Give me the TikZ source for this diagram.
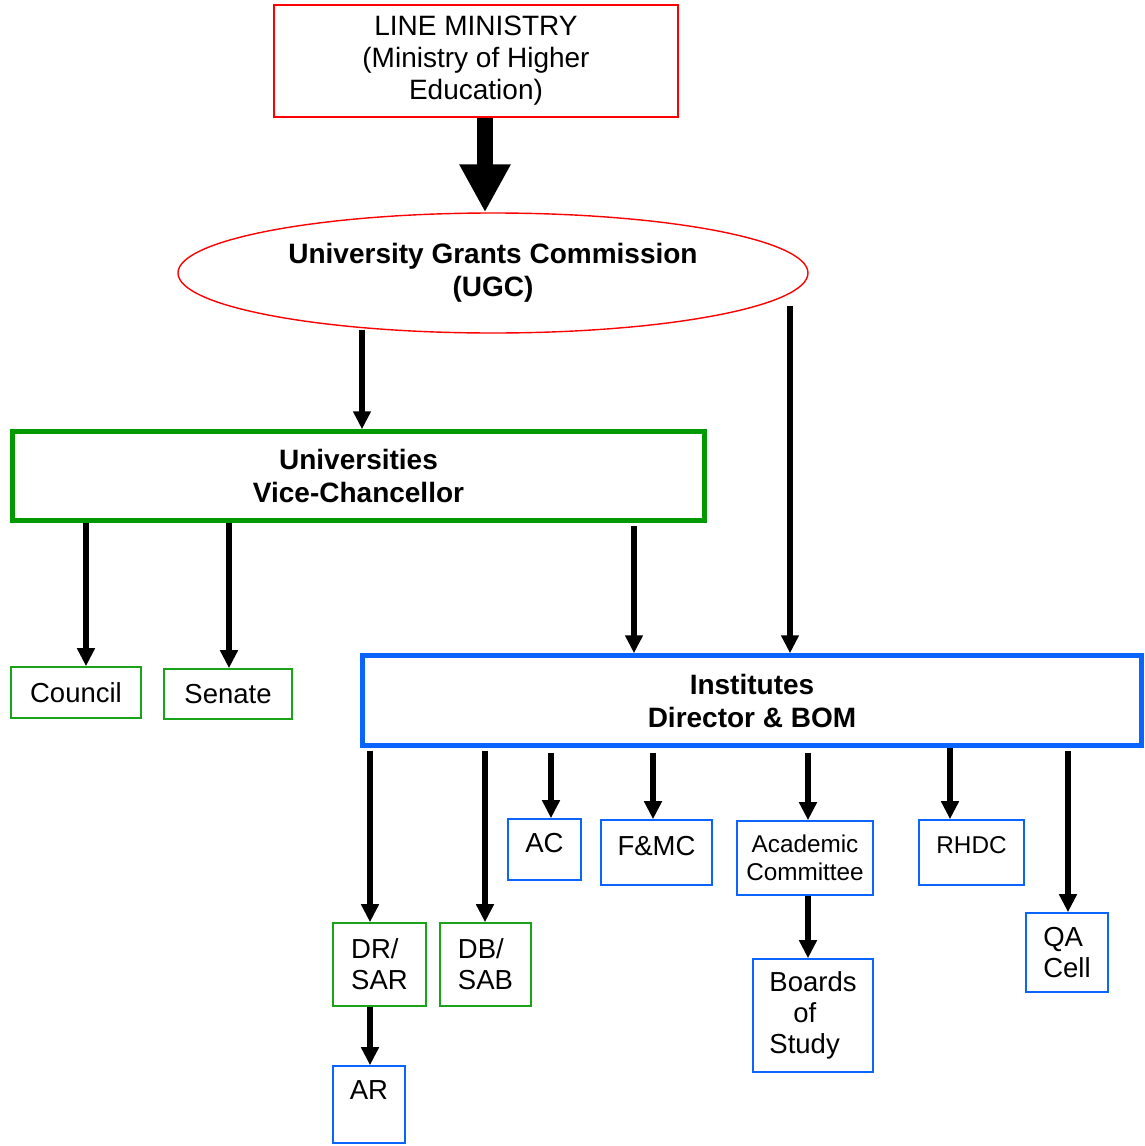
\documentclass[tikz,border=0pt]{standalone}
\usepackage{fontspec}
\setmainfont{Liberation Sans}
\usepackage{tikz}
\usetikzlibrary{arrows.meta,positioning,shapes.geometric}
\definecolor{orgred}{HTML}{FF0000}
\definecolor{orggreen}{HTML}{009900}
\definecolor{orgblue}{HTML}{0A64FF}

\begin{document}
\begin{tikzpicture}[x=1pt,y=-1pt,
  box/.style={draw,rectangle,inner sep=2pt,align=center,font=\fontsize{27.5}{31}\selectfont,line width=1.6pt},
  ministrybox/.style={box,draw=orgred,line width=1.8pt,font=\fontsize{28}{32}\selectfont},
  ugcshape/.style={draw=orgred,ellipse,inner sep=0pt,line width=1.4pt,align=center,font=\fontsize{28}{33}\selectfont\bfseries},
  headbox/.style={box,line width=4.5pt,font=\fontsize{28}{33}\selectfont\bfseries},
  univbox/.style={headbox,draw=orggreen},
  instbox/.style={headbox,draw=orgblue},
  greenbox/.style={box,draw=orggreen!90!white},
  bluebox/.style={box,draw=orgblue},
  smalltext/.style={font=\fontsize{24.3}{28}\selectfont},
  arr/.style={-{Triangle[length=18pt,width=17pt]},line width=5.5pt},
  bigarr/.style={-{Triangle[length=48pt,width=48pt]},line width=16pt}
]
\useasboundingbox (0,0) rectangle (1145,1146);

% Line ministry and UGC (top)
\node[ministrybox,minimum width=404pt,minimum height=112pt] (lm) at (476,61) {LINE MINISTRY\\(Ministry of Higher\\Education)};
\node[ugcshape,minimum width=630pt,minimum height=120pt] (ugc) at (493,273) {University Grants Commission\\(UGC)};

% Universities (left)
\node[univbox,minimum width=692pt,minimum height=89pt] (univ) at (358.5,476) {Universities\\Vice-Chancellor};
\node[greenbox,minimum width=130pt,minimum height=51pt] (council) at (76,692.5) {Council};
\node[greenbox,minimum width=128pt,minimum height=50pt] (senate) at (228,694) {Senate};

% Institutes (right)
\node[instbox,minimum width=779pt,minimum height=90pt] (inst) at (752,700.5) {Institutes\\Director \& BOM};

% Units below the institutes
\node[greenbox,align=left,minimum width=93pt,minimum height=83pt] (drsar) at (379.5,964.5) {DR/\\SAR};
\node[greenbox,align=left,minimum width=91pt,minimum height=83pt] (dbsab) at (485.5,964.5) {DB/\\SAB};
\node[bluebox,text depth=14pt,minimum width=73pt,minimum height=61pt] (ac) at (544.5,849.5) {AC};
\node[bluebox,text depth=14pt,minimum width=111pt,minimum height=65pt] (fmc) at (656.5,852.5) {F\&MC};
\node[bluebox,smalltext,minimum width=136pt,minimum height=74pt] (acad) at (805,858) {Academic\\Committee};
\node[bluebox,smalltext,text depth=14pt,minimum width=105pt,minimum height=65pt] (rhdc) at (971.5,852.5) {RHDC};
\node[bluebox,align=left,minimum width=82pt,minimum height=79pt] (qa) at (1067,952.5) {QA\\Cell};
\node[bluebox,align=left,minimum width=120pt,minimum height=113pt] (bos) at (813,1015.5) {Boards\\\hspace*{24pt}of\\Study};
\node[bluebox,text depth=28pt,minimum width=72pt,minimum height=77pt] (ar) at (369,1104.5) {AR};

% Arrows
\draw[bigarr] (lm.south -| 485,0) -- (ugc.north -| 485,0);
\draw[arr] ([yshift=4pt]ugc.south -| 362,0) -- (univ.north -| 362,0);
\draw[arr] ([yshift=28pt]ugc.south -| 790,0) -- (inst.north -| 790,0);

\draw[arr] (univ.south -| 86,0) -- (council.north -| 86,0);
\draw[arr] (univ.south -| 229,0) -- (senate.north -| 229,0);
\draw[arr] ([yshift=-3pt]univ.south -| 634,0) -- (inst.north -| 634,0);

\draw[arr] ([yshift=-3pt]inst.south -| 370,0) -- (drsar.north -| 370,0);
\draw[arr] ([yshift=-3pt]inst.south -| 485,0) -- (dbsab.north -| 485,0);
\draw[arr] ([yshift=-5pt]inst.south -| 551,0) -- (ac.north -| 551,0);
\draw[arr] ([yshift=-5pt]inst.south -| 653,0) -- (fmc.north -| 653,0);
\draw[arr] ([yshift=-5pt]inst.south -| 808,0) -- (acad.north -| 808,0);
\draw[arr] (inst.south -| 950,0) -- (rhdc.north -| 950,0);
\draw[arr] ([yshift=-3pt]inst.south -| 1068,0) -- (qa.north -| 1068,0);

\draw[arr] (drsar.south -| 370,0) -- (ar.north -| 370,0);
\draw[arr] (acad.south -| 808,0) -- (bos.north -| 808,0);

\end{tikzpicture}
\end{document}
